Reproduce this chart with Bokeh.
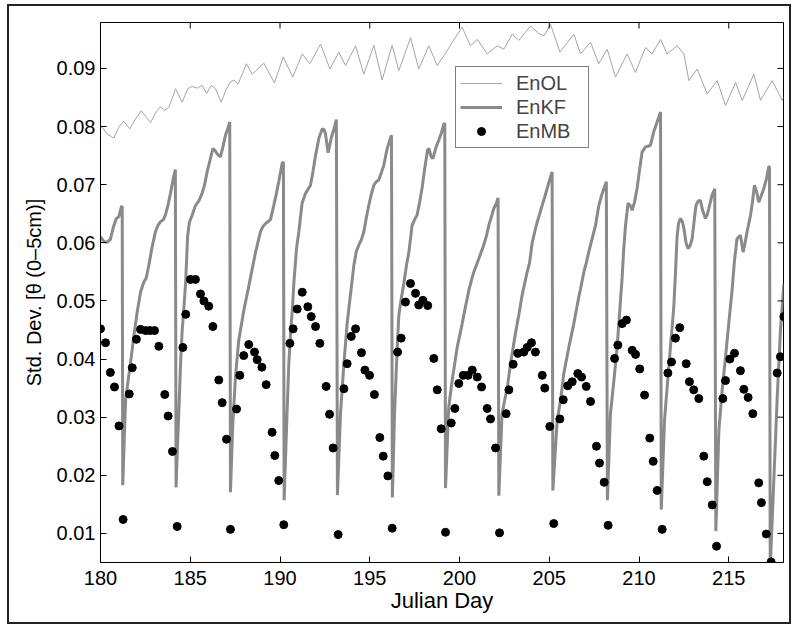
from bokeh.plotting import figure
from bokeh.models import (ColumnDataSource, FixedTicker, Range1d, Legend,
                          LegendItem, NumeralTickFormatter)
from bokeh.embed import file_html
from bokeh.resources import INLINE

# ---------------- data ----------------
enol_day = [180.00, 180.09, 180.37, 180.74, 181.02, 181.30, 181.63, 181.95, 182.27, 182.55,
            182.79, 183.12, 183.34, 183.57, 183.81, 184.18, 184.55, 184.86, 185.10, 185.38,
            185.66, 185.91, 186.17, 186.41, 186.72, 187.02, 187.24, 187.43, 187.65, 187.90,
            188.13, 188.45, 189.10, 189.69, 190.18, 190.71, 191.24, 191.66, 192.26, 192.78,
            193.28, 193.65, 194.21, 194.67, 195.23, 195.69, 196.25, 196.62, 197.27, 197.73,
            198.29, 198.76, 199.20, 199.59, 200.15, 200.61, 200.99, 201.54, 202.10, 202.47,
            202.94, 203.30, 203.96, 204.42, 204.70, 205.07, 205.60, 206.37, 206.74, 207.30,
            207.76, 208.23, 208.69, 209.34, 209.80, 210.36, 210.73, 211.20, 211.57, 212.12,
            212.50, 212.78, 213.24, 213.80, 214.36, 214.82, 215.38, 215.75, 216.40, 216.77,
            217.42, 217.98, 218.05]
enol_val = [0.0800, 0.0799, 0.0787, 0.0780, 0.0799, 0.0809, 0.0796, 0.0813, 0.0827, 0.0816,
            0.0807, 0.0826, 0.0834, 0.0828, 0.0833, 0.0865, 0.0842, 0.0865, 0.0869, 0.0866,
            0.0871, 0.0857, 0.0871, 0.0865, 0.0842, 0.0865, 0.0877, 0.0880, 0.0873, 0.0890,
            0.0908, 0.0890, 0.0909, 0.0875, 0.0920, 0.0885, 0.0925, 0.0908, 0.0942, 0.0899,
            0.0928, 0.0905, 0.0939, 0.0890, 0.0940, 0.0880, 0.0940, 0.0896, 0.0953, 0.0899,
            0.0939, 0.0905, 0.0925, 0.0945, 0.0971, 0.0939, 0.0950, 0.0925, 0.0939, 0.0933,
            0.0959, 0.0948, 0.0973, 0.0960, 0.0956, 0.0976, 0.0928, 0.0959, 0.0925, 0.0945,
            0.0908, 0.0933, 0.0885, 0.0925, 0.0893, 0.0936, 0.0925, 0.0950, 0.0925, 0.0939,
            0.0925, 0.0879, 0.0899, 0.0856, 0.0879, 0.0836, 0.0876, 0.0845, 0.0890, 0.0845,
            0.0879, 0.0845, 0.0850]

enkf_day = [180.00, 180.20, 180.37, 180.55, 180.70, 180.87, 181.02, 181.17, 181.21, 181.24,
            181.33, 181.40, 181.55, 181.70, 181.86, 182.04, 182.23, 182.41, 182.55, 182.69,
            182.87, 183.06, 183.20, 183.34, 183.50, 183.62, 183.76, 183.90, 184.05, 184.17,
            184.21,
            184.30, 184.36, 184.46, 184.55, 184.65, 184.74, 184.85, 184.95, 185.10, 185.29,
            185.48, 185.66, 185.80, 185.94, 186.10, 186.26, 186.40, 186.50, 186.68, 186.82,
            186.96, 187.10, 187.20, 187.24,
            187.37, 187.52, 187.70, 187.98, 188.26, 188.45, 188.64, 188.91, 189.05, 189.19,
            189.35, 189.47, 189.65, 189.80, 189.93, 190.12, 190.19, 190.23,
            190.36, 190.49, 190.60, 190.70, 190.77, 190.92, 191.05, 191.23, 191.42, 191.70,
            191.85, 191.98, 192.16, 192.35, 192.45, 192.53, 192.62, 192.68, 192.77, 192.87,
            193.00, 193.14, 193.20,
            193.37, 193.56, 193.74, 193.93, 194.11, 194.25, 194.39, 194.53, 194.67, 194.81,
            194.95, 195.10, 195.23, 195.36, 195.50, 195.64, 195.78, 195.97, 196.10, 196.21,
            196.26,
            196.38, 196.53, 196.62, 196.76, 196.90, 197.04, 197.18, 197.36, 197.50, 197.64,
            197.78, 197.92, 198.05, 198.22, 198.30, 198.42, 198.52, 198.70, 198.85, 198.98,
            199.13, 199.18, 199.22,
            199.40, 199.59, 199.87, 200.15, 200.30, 200.52, 200.66, 200.80, 201.08, 201.35,
            201.50, 201.63, 201.78, 201.91, 202.05, 202.15, 202.19,
            202.37, 202.52, 202.66, 202.84, 203.12, 203.30, 203.49, 203.77, 203.90, 204.05,
            204.20, 204.33, 204.47, 204.60, 204.74, 204.88, 205.02, 205.16, 205.20,
            205.44, 205.63, 205.81, 206.09, 206.37, 206.64, 206.74, 206.93, 207.06, 207.20,
            207.39, 207.58, 207.76, 207.90, 208.04, 208.18, 208.24,
            208.41, 208.60, 208.78, 208.92, 209.06, 209.15, 209.25, 209.39, 209.50, 209.62,
            209.75, 209.89, 210.03, 210.17, 210.36, 210.50, 210.64, 210.82, 211.01, 211.20,
            211.24,
            211.42, 211.57, 211.75, 211.94, 212.05, 212.12, 212.20, 212.31, 212.42, 212.50,
            212.62, 212.73, 212.85, 212.96, 213.08, 213.18, 213.30, 213.42, 213.55, 213.70,
            213.80, 213.89, 214.07, 214.22, 214.28,
            214.45, 214.63, 214.82, 215.00, 215.19, 215.32, 215.46, 215.65, 215.72, 215.80,
            215.90, 216.02, 216.21, 216.32, 216.43, 216.55, 216.67, 216.80, 216.95, 217.10,
            217.23, 217.27, 217.31,
            217.51, 217.70, 217.88, 218.07]
enkf_val = [0.0610, 0.0602, 0.0601, 0.0606, 0.0625, 0.0641, 0.0645, 0.0662, 0.0663, 0.0183,
            0.0270, 0.0330, 0.0365, 0.0400, 0.0440, 0.0480, 0.0515, 0.0532, 0.0540, 0.0561,
            0.0592, 0.0619, 0.0630, 0.0636, 0.0640, 0.0648, 0.0665, 0.0685, 0.0710, 0.0726,
            0.0179,
            0.0260, 0.0306, 0.0392, 0.0449, 0.0490, 0.0530, 0.0610, 0.0635, 0.0647, 0.0664,
            0.0672, 0.0685, 0.0700, 0.0722, 0.0742, 0.0762, 0.0758, 0.0753, 0.0748, 0.0765,
            0.0785, 0.0797, 0.0808, 0.0171,
            0.0289, 0.0369, 0.0432, 0.0483, 0.0525, 0.0555, 0.0584, 0.0619, 0.0628, 0.0633,
            0.0637, 0.0640, 0.0664, 0.0685, 0.0705, 0.0737, 0.0739, 0.0157,
            0.0277, 0.0392, 0.0450, 0.0490, 0.0530, 0.0590, 0.0619, 0.0668, 0.0685, 0.0699,
            0.0725, 0.0750, 0.0779, 0.0796, 0.0795, 0.0788, 0.0768, 0.0755, 0.0768, 0.0782,
            0.0795, 0.0812, 0.0166,
            0.0306, 0.0392, 0.0461, 0.0512, 0.0560, 0.0585, 0.0596, 0.0605, 0.0619, 0.0643,
            0.0665, 0.0685, 0.0699, 0.0705, 0.0708, 0.0720, 0.0733, 0.0762, 0.0775, 0.0785,
            0.0162,
            0.0306, 0.0420, 0.0475, 0.0505, 0.0530, 0.0560, 0.0584, 0.0630, 0.0640, 0.0648,
            0.0670, 0.0695, 0.0725, 0.0760, 0.0762, 0.0748, 0.0745, 0.0765, 0.0777, 0.0788,
            0.0804, 0.0806, 0.0178,
            0.0317, 0.0363, 0.0420, 0.0461, 0.0485, 0.0518, 0.0535, 0.0550, 0.0573, 0.0596,
            0.0612, 0.0630, 0.0645, 0.0659, 0.0668, 0.0677, 0.0165,
            0.0306, 0.0330, 0.0350, 0.0392, 0.0445, 0.0475, 0.0510, 0.0550, 0.0565, 0.0600,
            0.0620, 0.0636, 0.0650, 0.0664, 0.0678, 0.0693, 0.0708, 0.0722, 0.0174,
            0.0294, 0.0329, 0.0375, 0.0420, 0.0461, 0.0506, 0.0520, 0.0550, 0.0565, 0.0584,
            0.0607, 0.0630, 0.0664, 0.0680, 0.0693, 0.0705, 0.0157,
            0.0306, 0.0363, 0.0420, 0.0480, 0.0540, 0.0590, 0.0630, 0.0668, 0.0665, 0.0656,
            0.0670, 0.0693, 0.0725, 0.0756, 0.0765, 0.0766, 0.0768, 0.0791, 0.0808, 0.0825,
            0.0141,
            0.0294, 0.0352, 0.0420, 0.0490, 0.0560, 0.0610, 0.0633, 0.0642, 0.0636, 0.0625,
            0.0600, 0.0590, 0.0595, 0.0607, 0.0640, 0.0665, 0.0672, 0.0673, 0.0655, 0.0642,
            0.0648, 0.0659, 0.0682, 0.0693, 0.0104,
            0.0277, 0.0346, 0.0403, 0.0461, 0.0520, 0.0570, 0.0607, 0.0613, 0.0600, 0.0584,
            0.0598, 0.0619, 0.0647, 0.0670, 0.0699, 0.0688, 0.0670, 0.0680, 0.0693, 0.0710,
            0.0731, 0.0731, 0.0040,
            0.0191, 0.0334, 0.0449, 0.0530]

enmb_day = [180.00, 180.28, 180.55, 180.78, 181.03, 181.26, 181.60, 181.77, 182.00, 182.23,
            182.51, 182.75, 183.01, 183.25, 183.58, 183.77, 184.01, 184.27, 184.59, 184.75,
            185.01, 185.29, 185.57, 185.76, 186.03, 186.26, 186.59, 186.78, 187.02, 187.24,
            187.58, 187.76, 187.98, 188.26, 188.58, 188.73, 188.99, 189.23, 189.56, 189.71,
            189.93, 190.21, 190.55, 190.73, 190.96, 191.24, 191.55, 191.74, 191.98, 192.22,
            192.57, 192.76, 192.96, 193.24, 193.56, 193.74, 193.97, 194.21, 194.54, 194.73,
            194.99, 195.26, 195.56, 195.75, 196.01, 196.25, 196.55, 196.75, 196.99, 197.27,
            197.55, 197.73, 197.96, 198.23, 198.57, 198.76, 198.98, 199.22, 199.54, 199.74,
            199.96, 200.21, 200.48, 200.71, 200.99, 201.23, 201.54, 201.73, 202.01, 202.23,
            202.60, 202.75, 202.99, 203.25, 203.58, 203.77, 204.01, 204.23, 204.61, 204.75,
            205.03, 205.25, 205.59, 205.78, 206.03, 206.28, 206.59, 206.80, 207.06, 207.30,
            207.63, 207.80, 208.06, 208.28, 208.64, 208.82, 209.06, 209.30, 209.62, 209.81,
            210.04, 210.31, 210.60, 210.79, 211.01, 211.29, 211.61, 211.81, 212.03, 212.27,
            212.63, 212.81, 213.05, 213.33, 213.61, 213.80, 214.08, 214.32, 214.67, 214.82,
            215.06, 215.32, 215.65, 215.84, 216.08, 216.34, 216.67, 216.82, 217.09, 217.36,
            217.70, 217.88, 218.07]
enmb_val = [0.0452, 0.0428, 0.0377, 0.0352, 0.0285, 0.0124, 0.0340, 0.0385, 0.0434, 0.0451,
            0.0449, 0.0449, 0.0449, 0.0422, 0.0339, 0.0302, 0.0241, 0.0112, 0.0420, 0.0477,
            0.0537, 0.0537, 0.0512, 0.0500, 0.0491, 0.0456, 0.0364, 0.0325, 0.0262, 0.0107,
            0.0314, 0.0372, 0.0406, 0.0425, 0.0412, 0.0399, 0.0386, 0.0356, 0.0274, 0.0234,
            0.0191, 0.0115, 0.0427, 0.0452, 0.0486, 0.0515, 0.0490, 0.0473, 0.0456, 0.0427,
            0.0353, 0.0305, 0.0247, 0.0098, 0.0349, 0.0392, 0.0439, 0.0452, 0.0411, 0.0381,
            0.0372, 0.0339, 0.0265, 0.0233, 0.0199, 0.0109, 0.0412, 0.0436, 0.0498, 0.0530,
            0.0513, 0.0493, 0.0501, 0.0492, 0.0401, 0.0347, 0.0280, 0.0102, 0.0290, 0.0315,
            0.0358, 0.0372, 0.0372, 0.0381, 0.0369, 0.0352, 0.0315, 0.0297, 0.0247, 0.0101,
            0.0306, 0.0347, 0.0391, 0.0410, 0.0412, 0.0420, 0.0428, 0.0412, 0.0372, 0.0350,
            0.0284, 0.0117, 0.0297, 0.0330, 0.0354, 0.0361, 0.0375, 0.0369, 0.0353, 0.0327,
            0.0250, 0.0221, 0.0188, 0.0114, 0.0401, 0.0424, 0.0461, 0.0467, 0.0415, 0.0408,
            0.0383, 0.0338, 0.0264, 0.0224, 0.0174, 0.0107, 0.0376, 0.0395, 0.0436, 0.0454,
            0.0392, 0.0361, 0.0347, 0.0332, 0.0233, 0.0189, 0.0149, 0.0078, 0.0332, 0.0363,
            0.0400, 0.0410, 0.0380, 0.0348, 0.0334, 0.0306, 0.0187, 0.0153, 0.0099, 0.0051,
            0.0376, 0.0404, 0.0473]

x_ticks = [180, 185, 190, 195, 200, 205, 210, 215]
y_ticks = [0.01, 0.02, 0.03, 0.04, 0.05, 0.06, 0.07, 0.08, 0.09]
series_names = ["EnOL", "EnKF", "EnMB"]
x_label = "Julian Day"
y_label = "Std. Dev. [θ (0–5cm)]"

FONT = "Liberation Sans"
X0, X1 = 180, 218.05
Y0, Y1 = 0.005, 0.0979

# canvas placed with a margin; the page frame is a CSS outline (takes no layout space)
W, H = 780, 616
BL, BR, BT, BB = 91, 6, 16, 60
FRAME_W = W - BL - BR
FRAME_H = H - BT - BB
TICK_PX = 6

p = figure(width=W, height=H, output_backend="svg", toolbar_location=None,
           x_range=Range1d(X0, X1), y_range=Range1d(Y0, Y1),
           min_border_left=BL, min_border_right=BR, min_border_top=BT, min_border_bottom=BB,
           background_fill_color="white", border_fill_color="white",
           margin=(6, 0, 0, 9),
           styles={"outline": "2px solid #222222", "outline-offset": "0px"})
p.grid.visible = False
p.outline_line_color = "black"
p.outline_line_width = 1

src_ol = ColumnDataSource(dict(x=enol_day, y=enol_val))
src_kf = ColumnDataSource(dict(x=enkf_day, y=enkf_val))
src_mb = ColumnDataSource(dict(x=enmb_day, y=enmb_val))

r_ol = p.line("x", "y", source=src_ol, line_color="#a4a4a4", line_width=1)
r_kf = p.line("x", "y", source=src_kf, line_color="#8a8a8a", line_width=3)
r_mb = p.scatter("x", "y", source=src_mb, marker="circle", size=8,
                 fill_color="black", line_color="black")

# ticks on the top and right edges of the box (MATLAB "box on" style)
dy_tick = TICK_PX * (Y1 - Y0) / FRAME_H
dx_tick = TICK_PX * (X1 - X0) / FRAME_W
p.segment(x0=x_ticks, y0=[Y1] * len(x_ticks), x1=x_ticks, y1=[Y1 - dy_tick] * len(x_ticks),
          line_color="black", line_width=1)
p.segment(x0=[X1] * len(y_ticks), y0=y_ticks, x1=[X1 - dx_tick] * len(y_ticks), y1=y_ticks,
          line_color="black", line_width=1)

for ax in (p.xaxis[0], p.yaxis[0]):
    ax.major_tick_in = TICK_PX
    ax.major_tick_out = 0
    ax.minor_tick_line_color = None
    ax.axis_line_color = "black"
    ax.major_tick_line_color = "black"
    ax.major_label_text_font = FONT
    ax.major_label_text_font_size = "20px"
    ax.major_label_text_color = "black"
    ax.axis_label_text_font = FONT
    ax.axis_label_text_font_style = "normal"
    ax.axis_label_text_color = "black"

p.xaxis[0].ticker = FixedTicker(ticks=x_ticks)
p.yaxis[0].ticker = FixedTicker(ticks=y_ticks)
p.yaxis[0].formatter = NumeralTickFormatter(format="0.00")
p.xaxis[0].axis_label = x_label
p.yaxis[0].axis_label = y_label
p.xaxis[0].axis_label_text_font_size = "22px"
p.yaxis[0].axis_label_text_font_size = "20px"
p.xaxis[0].major_label_standoff = 8
p.yaxis[0].major_label_standoff = 5
p.xaxis[0].axis_label_standoff = 0
p.yaxis[0].axis_label_standoff = 9

legend = Legend(items=[LegendItem(label=series_names[0], renderers=[r_ol]),
                       LegendItem(label=series_names[1], renderers=[r_kf]),
                       LegendItem(label=series_names[2], renderers=[r_mb])],
                location=(355, 414), margin=0, padding=4, spacing=0,
                glyph_width=42, glyph_height=20, label_height=24, label_width=68,
                label_standoff=14,
                label_text_font=FONT, label_text_font_size="20px",
                border_line_color="black", border_line_width=1,
                background_fill_color="white", background_fill_alpha=1)
p.add_layout(legend, "center")

open("out.html", "w").write(file_html(p, INLINE))
